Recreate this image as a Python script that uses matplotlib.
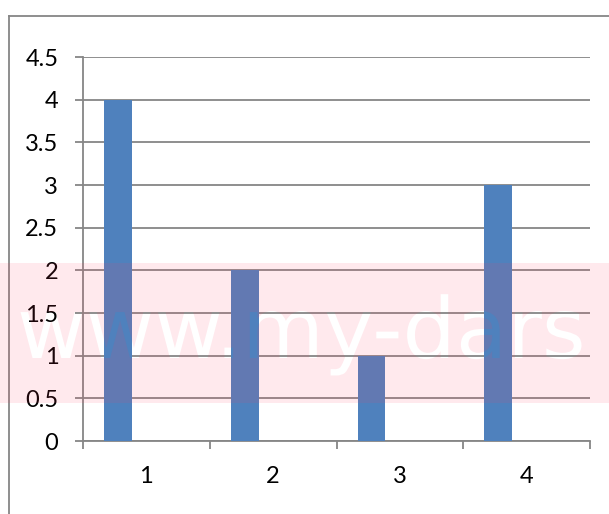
import numpy as np
import matplotlib
matplotlib.use("Agg")
import matplotlib.pyplot as plt
from matplotlib.path import Path
from matplotlib.patches import PathPatch
from matplotlib.textpath import TextPath
from matplotlib.font_manager import FontProperties
from matplotlib.lines import Line2D
from matplotlib.transforms import IdentityTransform

# ---- data ----
categories = [1, 2, 3, 4]
values = [4, 2, 1, 3]
y_ticks = [0, 0.5, 1, 1.5, 2, 2.5, 3, 3.5, 4, 4.5]
y_tick_labels = ["0", "0.5", "1", "1.5", "2", "2.5", "3", "3.5", "4", "4.5"]
x_tick_labels = ["1", "2", "3", "4"]

W, H = 609, 514
fig = plt.figure(figsize=(W / 100, H / 100), dpi=100)
fig.patch.set_facecolor("white")

ax = fig.add_axes([83 / W, 1 - 441 / H, (590 - 83) / W, (441 - 57) / H])
grey = "#868686"
blue = "#4F81BD"

x = np.array(categories, dtype=float)
ax.bar(x - 0.224, values, width=0.22, color=blue, zorder=3, linewidth=0)

ax.set_xlim(0.5, 4.5)
ax.set_ylim(0, 4.5)
ax.set_yticks(y_ticks)
ax.set_yticklabels(y_tick_labels)
ax.set_xticks(categories)
ax.set_xticklabels(x_tick_labels)
ax.set_xticks(np.arange(0.5, 4.6, 1.0), minor=True)

ax.yaxis.grid(True, color=grey, linewidth=1.3, zorder=1)
ax.set_axisbelow(True)
for s in ["top", "right"]:
    ax.spines[s].set_visible(False)
for s in ["left", "bottom"]:
    ax.spines[s].set_color(grey)
    ax.spines[s].set_linewidth(1.3)

ax.tick_params(axis="y", which="major", length=5.8, width=1.3, color=grey,
               pad=12, labelsize=17, labelcolor="black")
ax.tick_params(axis="x", which="major", length=0, pad=18, labelsize=17,
               labelcolor="black")
ax.tick_params(axis="x", which="minor", length=5.8, width=1.3, color=grey)
for lab in ax.get_xticklabels() + ax.get_yticklabels():
    lab.set_fontfamily("Lato")

# outer chart frame
fig.add_artist(Line2D([9 / W, 1], [1 - 16 / H, 1 - 16 / H], color=grey,
                      linewidth=1.3, transform=fig.transFigure))
fig.add_artist(Line2D([9 / W, 9 / W], [0, 1 - 16 / H], color=grey,
                      linewidth=1.3, transform=fig.transFigure))

# watermark band with cut-out text
band_bottom, band_top = H - 403, H - 263
rect = Path([(0, band_bottom), (W, band_bottom), (W, band_top), (0, band_top),
             (0, band_bottom)],
            [Path.MOVETO, Path.LINETO, Path.LINETO, Path.LINETO, Path.CLOSEPOLY])
tp = TextPath((17, H - 358), "www.my-dars", size=84,
              prop=FontProperties(family="DejaVu Sans"))
comp = Path.make_compound_path(rect, tp)
fig.add_artist(PathPatch(comp, facecolor=(1, 57 / 255, 93 / 255), alpha=0.11,
                         edgecolor="none", transform=IdentityTransform(),
                         zorder=10))

fig.savefig("out.png", dpi=100)
